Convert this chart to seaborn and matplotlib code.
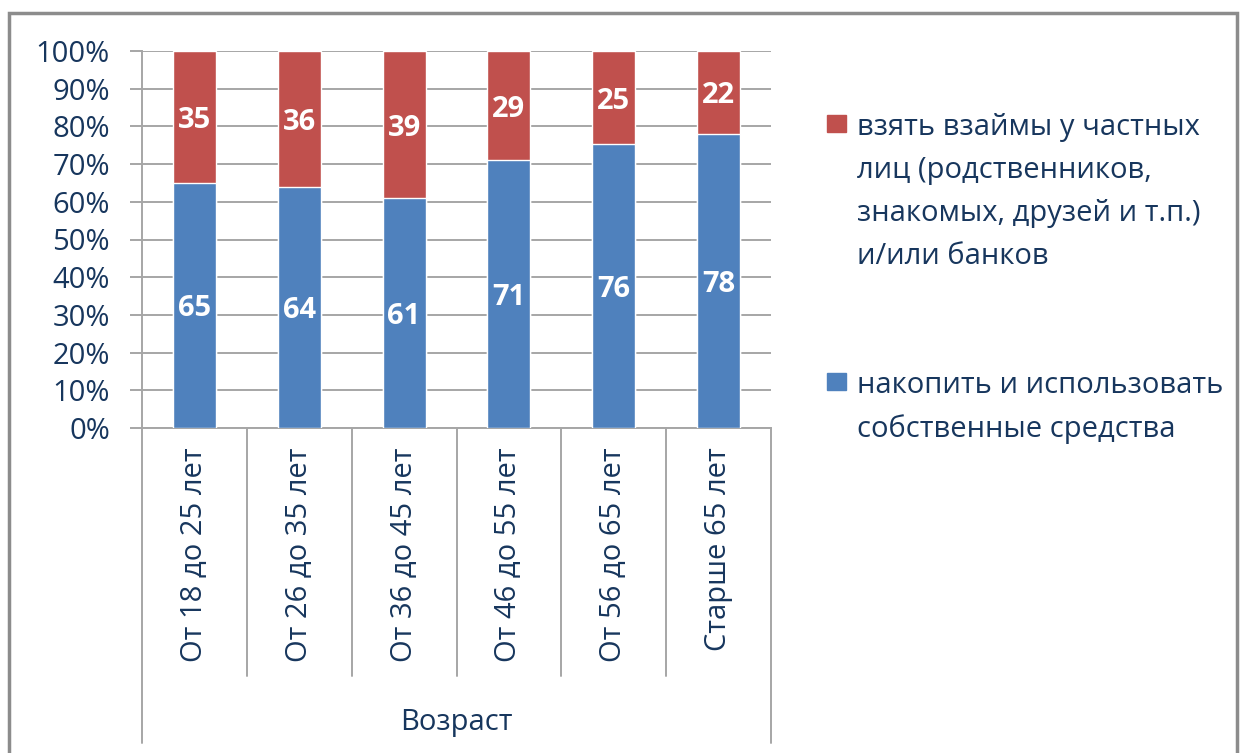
import numpy as np
import pandas as pd
import matplotlib
matplotlib.use('Agg')
import matplotlib.pyplot as plt
import seaborn as sns
from matplotlib.patches import Rectangle

# data
age_groups = ['От 18 до 25 лет', 'От 26 до 35 лет', 'От 36 до 45 лет',
              'От 46 до 55 лет', 'От 56 до 65 лет', 'Старше 65 лет']
own_funds = [65, 64, 61, 71, 76, 78]
borrow = [35, 36, 39, 29, 25, 22]
y_ticks = list(range(0, 101, 10))
axis_group = 'Возраст'
legend_borrow = 'взять взаймы у частных\nлиц (родственников,\nзнакомых, друзей и т.п.)\nи/или банков'
legend_own = 'накопить и использовать\nсобственные средства'

RED = '#C0504D'
BLUE = '#4F81BD'
NAVY = '#17365D'
GRID = '#A6A6A6'
FS = 21

sns.set_style('white')
plt.rcParams['font.family'] = ['Open Sans', 'DejaVu Sans']

df = pd.DataFrame({'age': age_groups, 'own': own_funds, 'borrow': borrow})
total = df['own'] + df['borrow']
df['own_pct'] = df['own'] / total * 100   # 100% stacked
df['total_pct'] = 100.0

W, H = 1245, 753
fig = plt.figure(figsize=(W / 100, H / 100), dpi=100)
ax = fig.add_axes([142 / W, 1 - 428 / H, (771 - 142) / W, (428 - 51) / H])

# stacked: full bar in red, own-funds share drawn over it in blue
sns.barplot(data=df, x='age', y='total_pct', color=RED, width=0.41,
            saturation=1, ax=ax, zorder=2)
sns.barplot(data=df, x='age', y='own_pct', color=BLUE, width=0.41,
            saturation=1, ax=ax, zorder=3)

n = len(age_groups)
ax.set_xlim(-0.5, n - 0.5)

for i, row in df.iterrows():
    ax.text(i, row['own_pct'] / 2, str(row['own']), ha='center',
            va='center_baseline', color='white', fontsize=FS,
            fontweight='bold', zorder=4)
    ax.text(i, row['own_pct'] + (100 - row['own_pct']) / 2, str(row['borrow']),
            ha='center', va='center_baseline', color='white', fontsize=FS,
            fontweight='bold', zorder=4)

ax.set_ylim(0, 100)
ax.set_yticks(y_ticks)
ax.set_yticklabels([f'{t}%' for t in y_ticks])
ax.set_axisbelow(True)
ax.yaxis.grid(True, color=GRID, lw=1.4)
ax.set_xlabel('')
ax.set_ylabel('')

ax.tick_params(axis='y', length=9, width=1.4, color=GRID, pad=14,
               labelsize=FS, labelcolor=NAVY, left=True)
ax.tick_params(axis='x', length=0, pad=14, labelsize=FS, labelcolor=NAVY)
plt.setp(ax.get_xticklabels(), rotation=90, va='top', ha='center')

for s in ['top', 'right']:
    ax.spines[s].set_visible(False)
for s in ['left', 'bottom']:
    ax.spines[s].set_color(GRID)
    ax.spines[s].set_linewidth(1.4)

# category separators below the axis and the outer group frame
tr = ax.get_xaxis_transform()
for k in range(n + 1):
    bottom = -0.836 if k in (0, n) else -0.658
    ax.plot([k - 0.5, k - 0.5], [0, bottom], transform=tr, color=GRID,
            lw=1.4, clip_on=False)
ax.text((n - 1) / 2, -0.78, axis_group, transform=tr, ha='center',
        va='center', fontsize=FS, color=NAVY)

# legend drawn by hand: squares beside the first line of each entry
for y_top, color, label in [(113, RED, legend_borrow), (371, BLUE, legend_own)]:
    fig.patches.append(Rectangle((827 / W, 1 - (y_top + 19) / H), 19 / W, 17 / H,
                                 transform=fig.transFigure, color=color))
    fig.text(857 / W, 1 - y_top / H, label, ha='left', va='top',
             fontsize=FS, color=NAVY, linespacing=1.63)

# outer chart frame
fig.patches.append(Rectangle((9 / W, -0.05), (1237 - 9) / W, 1.05 - 13 / H,
                             transform=fig.transFigure, fill=False,
                             ec='#8C8C8C', lw=2.5))

fig.savefig('out.png', dpi=100)
